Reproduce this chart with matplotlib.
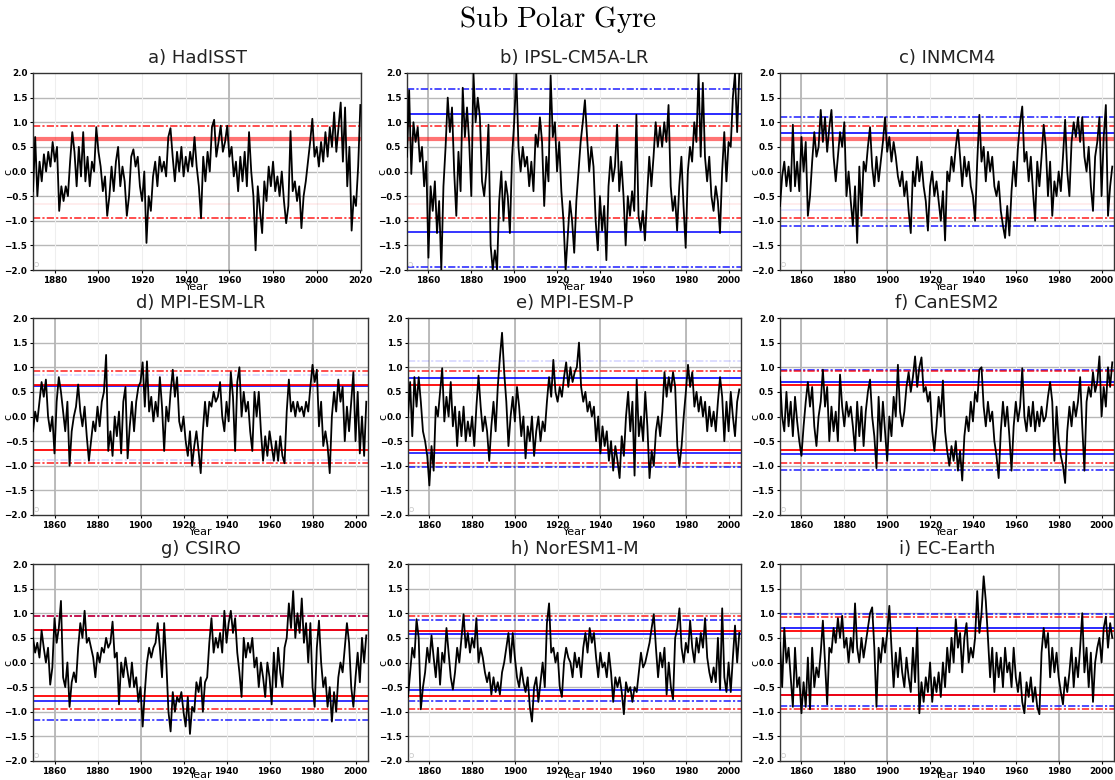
import numpy as np
import matplotlib
matplotlib.use("Agg")
import matplotlib.pyplot as plt

plt.rcParams["mathtext.fontset"] = "cm"
plt.rcParams["font.family"] = ["DejaVu Sans"]
plt.rcParams["axes.unicode_minus"] = True

# ---------------------------------------------------------------- data
titles = ["a) HadISST", "b) IPSL-CM5A-LR", "c) INMCM4",
          "d) MPI-ESM-LR", "e) MPI-ESM-P", "f) CanESM2",
          "g) CSIRO", "h) NorESM1-M", "i) EC-Earth"]

start_years = [1870, 1850, 1850, 1850, 1850, 1850, 1850, 1850, 1850]
end_years = [2020, 2005, 2005, 2005, 2005, 2005, 2005, 2005, 2005]

hadisst = [
    -0.4, 0.7, -0.5, 0.2, -0.2, 0.35, 0.0, 0.4, 0.1, 0.6,
    0.2, 0.5, -0.8, -0.3, -0.6, -0.3, -0.5, 0.2, 0.8, 0.4,
    -0.3, 0.5, -0.1, 0.8, -0.2, 0.3, -0.3, 0.2, 0.0, 0.9,
    0.4, 0.1, -0.4, -0.1, -0.9, -0.5, 0.1, -0.4, 0.2, 0.5,
    -0.3, 0.1, -0.2, -0.9, -0.5, 0.3, 0.45, 0.1, 0.3, -0.3,
    -0.6, 0.0, -1.45, -0.5, -0.8, -0.1, 0.2, -0.3, 0.3, 0.0,
    0.2, -0.1, 0.7, 0.88, 0.3, -0.2, 0.4, 0.0, 0.5, -0.1,
    0.3, 0.0, 0.4, 0.1, 0.7, 0.1, -0.3, -0.95, 0.3, -0.2,
    0.4, 0.0, 0.9, 1.05, 0.3, 0.6, 0.93, 0.4, 0.6, 0.93,
    0.3, 0.5, -0.1, 0.2, -0.4, 0.3, -0.2, 0.4, -0.3, 0.8,
    0.0, -0.5, -1.6, -0.3, -0.8, -1.25, -0.2, -0.6, 0.1, -0.3,
    0.2, -0.4, -0.1, -0.5, 0.0, -0.6, -1.05, -0.7, 0.82, -0.4,
    -0.2, -0.6, -0.3, -1.15, -0.5, -0.2, 0.2, 0.6, 1.07, 0.3,
    0.5, 0.1, 0.6, 0.2, 0.8, 0.3, 0.9, 0.5, 1.2, 0.4,
    0.9, 1.4, 0.2, 1.3, -0.3, 0.5, -1.2, -0.5, -0.7, 0.1,
    1.35]

ipsl = [
    0.3, 1.65, -0.05, 1.0, 0.6, 0.9, 0.2, 0.5, -0.3, 0.2,
    -1.75, -0.3, -0.8, -0.2, -1.25, -0.6, -2.0, -0.3, 0.5, 1.5,
    0.8, 1.3, 0.0, -0.9, 0.4, -0.4, 1.7, 0.7, 1.3, 0.6,
    -0.5, 2.0, 1.0, 1.5, 1.1, -0.2, -0.5, 0.0, 0.95, -1.5,
    -2.0, -1.6, -2.0, -0.6, 0.0, -1.0, -0.2, -0.5, -1.25, 0.3,
    1.0, 2.0, 0.5, 0.0, 0.5, 0.1, 0.3, -0.3, 0.2, -0.4,
    0.75, 0.5, 1.1, 0.6, -0.7, 0.3, -0.2, 1.95, 0.7, 1.0,
    0.0, 0.6, -0.4, -1.0, -2.0, -1.3, -0.6, -1.0, -1.65, -0.6,
    0.0, 0.6, 1.0, 1.45, 0.7, 0.0, 0.5, 0.1, -1.0, -1.6,
    -0.5, -1.2, -0.7, -1.8, -0.3, 0.3, -0.2, 0.1, 0.95, -0.4,
    0.2, -0.5, -1.5, -0.5, -0.9, -0.4, -0.8, 1.15, -0.9, -1.2,
    -0.8, -1.4, -0.5, 0.3, -0.3, 0.3, 1.0, 0.5, 0.9, 0.5,
    1.0, 0.6, 1.35, -0.3, -0.8, -0.5, -1.2, -0.3, 0.3, -0.7,
    -1.55, 0.0, 0.5, 0.2, 1.0, 0.6, 2.0, 0.3, 1.8, 0.3,
    -0.2, 0.3, -0.5, -0.8, -0.3, -0.6, -1.25, 0.0, 0.8, -0.2,
    0.6, 0.5, 1.5, 2.0, 0.8, 2.0]

inmcm4 = [
    -0.7, -0.1, 0.2, -0.3, 0.1, -0.4, 0.95, -0.3, 0.2, -0.4,
    0.7, 0.0, 0.6, -0.9, -0.5, 0.2, 0.8, 0.3, 0.5, 1.25,
    0.6, 1.1, 0.4, 0.9, 1.25, 0.3, -0.2, 0.3, 0.8, 0.5,
    1.0, -0.5, 0.0, -0.6, -1.1, -0.3, -1.45, 0.1, -0.9, 0.2,
    0.0, 0.5, 0.9, 0.1, -0.3, 0.3, -0.2, 0.2, 0.6, 1.1,
    0.4, 0.7, 0.2, 0.6, 0.3, -0.1, -0.3, 0.0, -0.5, -0.2,
    -0.8, -1.25, 0.0, -0.3, 0.3, -0.2, 0.2, -0.3, -0.6, -1.2,
    -0.3, 0.0, -0.5, -0.2, -0.6, -1.0, -0.4, -1.4, 0.0, -0.2,
    0.3, 0.0, 0.5, 0.85, 0.3, -0.3, 0.3, -0.1, 0.2, -0.3,
    -0.5, -1.0, 0.2, 1.15, 0.2, 0.5, -0.2, 0.4, 0.0, 0.3,
    -0.3, -0.5, -0.2, -0.8, -1.1, -1.35, -0.7, -1.3, -0.4, 0.2,
    -0.3, 0.5, 1.0, 1.32, 0.2, 0.4, -0.2, 0.3, -0.4, -1.0,
    0.2, -0.3, 0.3, 0.95, 0.5, -0.5, 0.2, -0.9, -0.2, -0.5,
    0.0, -0.4, 0.3, 1.05, 0.0, -0.5, 0.6, 1.0, 0.7, 1.1,
    0.6, 1.1, 0.3, 0.0, 0.5, -0.3, -0.8, 0.3, 0.6, 1.1,
    -0.5, 0.7, 1.35, -0.9, -0.3, 0.1]

mpi_lr = [
    -0.3, 0.1, -0.1, 0.3, 0.7, 0.4, 0.75, 0.0, -0.3, 0.0,
    -0.75, 0.3, 0.8, 0.5, 0.1, -0.3, 0.3, -1.0, -0.3, 0.0,
    0.2, 0.65, 0.1, -0.2, 0.2, -0.4, -0.9, -0.5, -0.1, -0.3,
    0.2, -0.2, 0.3, 0.5, 1.25, -0.7, -0.3, -0.8, 0.0, -0.4,
    0.1, -0.75, 0.3, 0.6, -0.85, -0.2, 0.3, -0.3, 0.3, 0.6,
    0.7, 1.1, 0.2, 1.12, 0.1, 0.4, -0.1, 0.3, 0.0, 0.8,
    0.2, -0.7, 0.2, -0.1, 0.5, 0.95, 0.4, 0.8, -0.1, -0.3,
    0.0, -0.5, -0.8, -0.3, -1.0, -0.6, -0.3, -0.7, -1.15, -0.3,
    0.3, -0.2, 0.3, 0.2, 0.5, 0.3, 0.4, 0.7, 0.0, -0.3,
    0.3, -0.1, 0.9, 0.4, -0.7, 0.7, 1.0, 0.0, 0.5, 0.1,
    0.3, -0.3, -0.7, 0.5, 0.0, 0.5, -0.3, -0.9, -0.4, -0.8,
    -0.3, -0.6, -0.9, -0.5, -0.9, -0.4, -0.8, -0.95, 0.1, 0.75,
    0.1, 0.3, 0.0, 0.3, 0.1, 0.2, 0.0, 0.3, 0.1, 0.6,
    1.05, 0.7, 0.95, -0.2, 0.3, -0.6, -0.3, -0.6, -1.15, 0.0,
    0.5, 0.1, 0.75, 0.3, 0.6, -0.5, 0.2, -0.3, 0.3, 0.9,
    -0.5, 0.5, -0.75, 0.0, -0.8, 0.3]

mpi_p = [
    0.0, 0.7, -0.4, 0.8, 0.2, 0.8, 0.3, -0.3, -0.5, -0.8,
    -1.4, -0.6, -1.1, 0.2, 0.0, 0.5, 0.98, -0.1, 0.4, 0.0,
    0.7, -0.2, 0.2, -0.6, 0.1, -0.4, 0.2, -0.5, -0.1, -0.4,
    0.0, -0.6, 0.2, 0.83, 0.2, -0.3, 0.0, -0.3, -0.9, -0.2,
    0.3, -0.3, 0.6, 1.2, 1.7, 0.9, 0.3, -0.6, 0.0, 0.4,
    -0.1, 0.6, 0.2, -0.4, 0.0, -0.85, -0.2, -0.5, 0.0, -0.8,
    -0.3, 0.0, -0.5, -0.1, -0.3, 0.3, 0.8, 0.4, 1.15, 0.5,
    0.3, 0.6, 0.4, 0.8, 1.1, 0.6, 1.0, 0.7, 0.9, 1.0,
    1.5, 0.6, 0.3, 0.5, 0.1, 0.3, 0.0, 0.2, -0.5, 0.0,
    -0.75, -0.2, -0.6, -0.3, -0.9, -0.5, -1.1, -0.6, -0.9, -1.25,
    -0.4, -0.8, 0.0, 0.5, -0.3, 0.3, -1.2, 0.75, -0.4, 0.0,
    -0.5, 0.5, -0.2, -1.25, -0.7, -1.0, -0.3, 0.0, -0.4, 0.1,
    0.9, 0.4, 0.8, 0.5, 0.9, 0.6, -0.6, -1.0, -0.6, 0.0,
    0.5, 1.05, 0.6, 0.9, 0.2, 0.5, 0.1, 0.4, 0.0, 0.3,
    -0.3, 0.2, -0.2, 0.1, -0.3, 0.3, 0.8, 0.4, -0.5, 0.3,
    -0.3, 0.5, 0.0, -0.4, 0.3, 0.55]

canesm2 = [
    0.8, 0.0, -0.3, 0.5, -0.2, 0.3, -0.4, 0.4, -0.1, -0.5,
    -0.8, -0.2, 0.3, 0.7, 0.2, 0.6, -0.2, -0.6, 0.0, 0.3,
    0.95, 0.2, 0.6, -0.5, 0.2, -0.3, 0.1, -0.5, 0.85, 0.2,
    -0.2, 0.3, 0.0, 0.2, -0.2, -0.7, 0.3, -0.4, 0.2, -0.6,
    0.1, 0.5, 0.75, 0.0, -0.4, -1.05, 0.4, -0.5, 0.3, -0.3,
    -0.9, 0.0, -0.4, 0.4, 0.0, 1.05, 0.1, -0.2, 0.1, 0.6,
    0.9, 0.5, 0.8, 1.22, 0.6, 1.0, 1.2, 0.5, 0.6, 0.3,
    0.5, -0.3, -0.7, -0.2, 0.4, 0.0, 0.73, -0.3, -0.7, -1.0,
    -0.6, -0.9, -0.5, -1.1, -0.7, -1.3, -0.4, 0.0, -0.3, 0.3,
    -0.1, 0.5, 0.3, 0.95, 1.0, 0.2, -0.2, 0.3, -0.1, 0.1,
    -0.5, -0.8, -1.25, -0.3, 0.3, -0.2, 0.2, -0.4, -1.1, -0.2,
    0.3, -0.1, 0.2, 0.98, 0.0, -0.3, 0.2, -0.2, 0.3, -0.3,
    0.1, -0.2, 0.2, -0.1, 0.0, 0.4, 0.7, 0.3, -0.9, 0.2,
    -0.5, -0.8, -1.0, -1.35, -0.3, 0.2, -0.2, 0.3, 0.0, 0.3,
    0.8, -0.2, -1.1, 0.3, 0.6, 0.4, 0.9, 0.5, 0.7, 1.22,
    0.0, 0.6, 0.2, 1.0, 0.6, 1.1]

csiro = [
    0.5, 0.2, 0.4, 0.1, 0.65, 0.3, 0.0, 0.3, -0.45, -0.1,
    0.9, 0.4, 0.7, 1.25, -0.3, -0.5, 0.0, -0.9, -0.4, -0.2,
    -0.4, 0.3, 0.8, 0.5, 1.05, 0.4, 0.5, 0.3, 0.1, -0.3,
    0.2, 0.0, 0.3, 0.2, 0.5, 0.3, 0.4, 0.83, 0.1, 0.2,
    -0.85, 0.0, -0.3, 0.1, -0.2, -0.5, 0.0, -0.5, -0.3, -0.8,
    -0.5, -1.3, -0.6, 0.0, 0.3, 0.1, 0.3, 0.4, 0.8, 0.3,
    -0.3, 0.8, 0.0, -1.0, -1.4, -0.6, -1.0, -0.7, -0.8, -0.6,
    -1.0, -1.3, -0.7, -1.45, -0.9, -1.0, -0.4, -0.6, -0.3, -1.0,
    -0.4, -0.3, 0.4, 0.9, 0.2, 0.5, 0.3, 0.6, 0.2, 1.05,
    0.4, 0.8, 1.05, 0.6, 0.9, 0.2, -0.2, -0.7, 0.5, 0.1,
    0.4, 0.2, 0.5, -0.1, 0.1, -0.5, 0.0, -0.3, -0.7, 0.0,
    -0.3, -0.85, 0.2, -0.5, 0.3, -0.2, -0.5, 0.3, 0.5, 1.2,
    0.7, 1.45, 0.5, 1.0, 0.6, 1.3, 0.4, 0.8, 0.0, 0.8,
    -0.5, -0.9, 0.3, 0.85, 0.0, -0.5, -0.3, -0.9, -0.5, -1.2,
    -0.6, -1.0, -0.3, 0.0, -0.2, 0.3, 0.8, 0.4, -0.5, -0.9,
    -0.3, 0.2, -0.4, 0.5, 0.0, 0.55]

noresm = [
    -0.7, -0.2, 0.3, 0.1, 0.88, 0.5, -0.95, -0.5, -0.2, 0.3,
    0.0, 0.55, 0.1, -0.3, 0.3, -0.45, 0.2, 0.0, 0.7, 0.2,
    -0.3, -0.55, -0.2, 0.3, 0.0, 0.5, 0.98, 0.3, 0.6, 0.2,
    0.5, 0.3, 0.9, 0.0, 0.3, 0.1, -0.2, -0.4, -0.2, -0.65,
    -0.3, -0.6, -0.4, -0.65, -0.2, 0.0, 0.3, 0.6, 0.0, 0.6,
    0.1, -0.3, -0.5, -0.1, -0.4, -0.6, -0.3, -0.9, -1.2, -0.5,
    -0.3, -0.8, -0.4, 0.0, -0.5, 0.8, 1.2, 0.2, 0.3, 0.0,
    0.2, -0.5, -0.7, 0.0, 0.3, 0.1, 0.0, -0.3, 0.2, -0.1,
    0.1, -0.3, 0.3, 0.6, 0.2, 0.7, 0.4, 0.6, 0.1, -0.3,
    0.2, -0.1, 0.0, -0.3, 0.2, -0.2, -0.8, -0.3, -0.5, -0.3,
    -0.6, -1.05, -0.4, -0.6, -0.5, -0.8, -0.5, -0.6, -0.2, 0.2,
    -0.1, 0.0, 0.2, 0.4, 0.7, 0.98, 0.3, -0.3, 0.2, -0.1,
    0.3, -0.65, 0.0, -0.5, -0.75, 0.5, 0.7, 1.1, 0.3, 0.0,
    0.4, 0.2, 0.85, 0.3, 0.0, 0.5, 0.2, 0.6, 0.3, 0.9,
    0.1, -0.2, -0.4, -0.1, -0.4, 0.5, -0.55, 1.1, -0.3, -0.6,
    0.0, -0.6, 0.1, 0.75, 0.0, 0.6]

ec_earth = [
    0.4, -0.5, 0.7, 0.0, 0.3, -0.3, -0.9, 0.3, -0.5, -0.3,
    -1.03, -0.4, -0.9, 0.1, -0.95, 0.3, -0.5, -0.1, -0.3, 0.2,
    0.85, 0.0, -0.85, 0.3, 0.2, 0.7, 0.4, 0.9, 0.5, 0.95,
    0.3, 0.5, 0.0, 0.5, 0.2, 1.2, 0.3, 0.0, 0.5, 0.1,
    0.4, 0.7, 1.0, 1.12, 0.3, -0.9, 0.3, 0.0, 0.5, 0.2,
    0.6, 1.15, 0.3, -0.5, 0.2, -0.3, 0.3, -0.2, -0.5, 0.1,
    -0.3, -0.6, 0.3, -0.4, 0.7, -1.03, -0.4, -0.8, -0.3, -0.6,
    0.0, -0.8, -0.3, -0.6, -0.2, -0.7, 0.0, -0.5, 0.3, -0.2,
    0.5, 0.0, 0.88, 0.3, 0.6, -0.2, 0.5, 0.8, 0.0, 0.3,
    0.1, 0.5, 1.45, 0.6, 1.0, 1.75, 1.25, 0.5, -0.3, 0.3,
    -0.6, 0.2, -0.3, 0.1, -0.5, 0.3, -0.2, 0.0, -0.5, 0.3,
    -0.3, -0.6, -0.2, -0.8, -1.03, -0.4, -0.7, -0.3, -0.8, -0.5,
    -0.9, -1.05, 0.2, 0.7, 0.3, 0.6, -0.3, 0.3, -0.2, 0.2,
    -0.3, -0.6, -0.85, -0.3, -0.6, -0.2, 0.3, -0.5, 0.1, -0.3,
    0.3, 1.0, -0.2, 0.3, -0.5, 0.2, -0.8, 0.0, 0.3, 0.5,
    0.0, 0.7, 0.93, 0.3, 0.8, 0.5]

series = [hadisst, ipsl, inmcm4, mpi_lr, mpi_p, canesm2, csiro, noresm, ec_earth]

# observed (HadISST) thresholds
obs_band_hi = [0.65, 0.65, 0.65, 0.64, 0.64, 0.64, 0.65, 0.64, 0.64]
obs_band_lo = [-0.67, -0.67, -0.67, -0.68, -0.68, -0.68, -0.68, -0.68, -0.66]
obs_ext_hi = [0.93, 0.93, 0.93, 0.93, 0.93, 0.93, 0.94, 0.94, 0.93]
obs_ext_lo = [-0.95, -0.95, -0.95, -0.95, -0.95, -0.95, -0.95, -0.95, -0.95]

# model thresholds (None where not shown)
mod_band_hi = [None, 1.16, 0.78, 0.62, 0.79, 0.70, 0.66, 0.58, 0.70]
mod_band_lo = [None, -1.23, -0.79, None, -0.74, -0.77, -0.78, -0.56, -0.65]
mod_ext_hi = [None, 1.68, 1.10, 0.85, 1.13, 0.95, 0.95, 0.86, 0.98]
mod_ext_lo = [None, -1.93, -1.10, -0.88, -1.03, -1.08, -1.16, -0.78, -0.88]

year_ticks = [list(range(1880, 2021, 20))] + [list(range(1860, 2001, 20))] * 8
y_ticks = [-2.0, -1.5, -1.0, -0.5, 0.0, 0.5, 1.0, 1.5, 2.0]

# ---------------------------------------------------------------- layout
W, H = 1115, 780
boxes = [  # left, right, top, bottom in pixels
    (33, 361, 73, 270), (407, 741, 73, 270), (780, 1114, 73, 270),
    (33, 368, 318, 515), (408, 741, 318, 515), (780, 1114, 318, 515),
    (33, 368, 564, 761), (408, 741, 564, 761), (780, 1114, 564, 761),
]
strong_vgrid = [[1960], [1860, 1900], [1860, 1900], [1860, 1900, 1980],
                [1860, 1900, 1940, 1980], [1860, 1900], [1860, 1900],
                [1900], [1860, 1900, 1980]]
faint_lines = {0: ["obs_lo"], 1: ["obs_lo"], 2: ["obs_lo", "mod_lo"],
               3: ["mod_ext"], 4: ["mod_ext_hi"]}

fig = plt.figure(figsize=(W / 100, H / 100), dpi=100)
fig.text(0.5, 0.975, r"$\mathrm{Sub\ Polar\ Gyre}$", ha="center", va="center",
         fontsize=21, color="black")

RED = "#ff0000"
BLUE = "#0000ff"
DASHDOT = (0, (4, 1.2, 1.2, 1.2))

for k in range(9):
    l, r, t, b = boxes[k]
    ax = fig.add_axes([l / W, 1 - b / H, (r - l) / W, (b - t) / H])
    vals = np.asarray(series[k], dtype=float)
    yrs = start_years[k] + np.arange(len(vals))
    x0 = start_years[k]
    x1 = end_years[k] + (0.3 if k == 0 else 0.8)

    # grid
    for yv in y_ticks[1:-1]:
        ax.axhline(yv, color="#b8b8b8", lw=1.0, zorder=0)
    for xv in year_ticks[k]:
        ax.axvline(xv, color="#eeeeee", lw=0.8, zorder=0)
    for xv in strong_vgrid[k]:
        ax.axvline(xv, color="#b0b0b0", lw=1.2, zorder=0)

    faint = faint_lines.get(k, [])

    # model threshold lines
    if mod_ext_hi[k] is not None:
        a_hi = 0.15 if ("mod_ext" in faint or "mod_ext_hi" in faint) else 0.75
        a_lo = 0.15 if "mod_ext" in faint else 0.75
        ax.axhline(mod_ext_hi[k], color=BLUE, lw=1.3, ls=DASHDOT, alpha=a_hi, zorder=2)
        ax.axhline(mod_ext_lo[k], color=BLUE, lw=1.3, ls=DASHDOT, alpha=a_lo, zorder=2)
    if mod_band_hi[k] is not None:
        ax.axhline(mod_band_hi[k], color=BLUE, lw=1.3, alpha=0.9, zorder=2)
    if mod_band_lo[k] is not None:
        a = 0.12 if "mod_lo" in faint else 0.85
        ax.axhline(mod_band_lo[k], color=BLUE, lw=1.3, alpha=a, zorder=2)

    # observed threshold lines
    ax.axhline(obs_ext_hi[k], color=RED, lw=1.3, ls=DASHDOT, alpha=0.75, zorder=2)
    ax.axhline(obs_ext_lo[k], color=RED, lw=1.3, ls=DASHDOT, alpha=0.75, zorder=2)
    if k < 3:
        ax.axhline(obs_band_hi[k], color=RED, lw=3.0, alpha=0.55, zorder=2)
    else:
        ax.axhline(obs_band_hi[k], color=RED, lw=1.3, zorder=2)
    a = 0.08 if "obs_lo" in faint else 1.0
    ax.axhline(obs_band_lo[k], color=RED, lw=1.3, alpha=a, zorder=2)

    # time series
    ax.plot(yrs, vals, color="black", lw=1.3, zorder=3)
    ax.plot([x0 + 1.2], [-1.88], marker="o", ms=3, mfc="none",
            mec="#cccccc", mew=0.6, zorder=3)

    ax.set_xlim(x0, x1)
    ax.set_ylim(-2.0, 2.0)
    ax.set_yticks(y_ticks)
    ax.set_yticklabels([f"{v:.1f}".replace("-", "\u2212") for v in y_ticks])
    ax.set_xticks(year_ticks[k])
    ax.tick_params(labelsize=6.3, length=2.5, width=0.8, pad=1.5)
    for lab in ax.get_xticklabels() + ax.get_yticklabels():
        lab.set_fontweight("bold")
    ax.set_title(titles[k], fontsize=13, color="#222222", pad=7)
    ax.set_xlabel("Year", fontsize=8, labelpad=(-3.8 if k >= 6 else -1.5))
    ax.set_ylabel("c", fontsize=8)
    ax.yaxis.set_label_coords(-20.0 / (r - l), 0.5)
    for s in ax.spines.values():
        s.set_color("#333333")
        s.set_linewidth(1.0)

fig.savefig("out.png", dpi=100)
